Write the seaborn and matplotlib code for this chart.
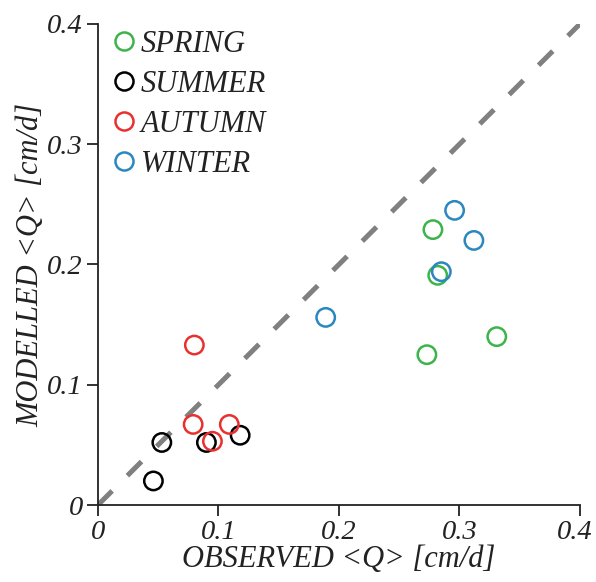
import numpy as np
import pandas as pd
import matplotlib
matplotlib.use("Agg")
import matplotlib.pyplot as plt
import matplotlib.transforms as mtransforms
import seaborn as sns

seasons = ["SPRING", "SUMMER", "AUTUMN", "WINTER"]
colors = ["#3cb44b", "#000000", "#e8312f", "#2b87c0"]

spring_obs = [0.278, 0.282, 0.273, 0.331]
spring_mod = [0.229, 0.191, 0.125, 0.140]
summer_obs = [0.046, 0.053, 0.090, 0.118]
summer_mod = [0.020, 0.052, 0.052, 0.058]
autumn_obs = [0.080, 0.079, 0.095, 0.109]
autumn_mod = [0.133, 0.067, 0.053, 0.067]
winter_obs = [0.189, 0.285, 0.296, 0.312]
winter_mod = [0.156, 0.194, 0.245, 0.220]

ticks = [0, 0.1, 0.2, 0.3, 0.4]
tick_labels = ["0", "0.1", "0.2", "0.3", "0.4"]

obs = [spring_obs, summer_obs, autumn_obs, winter_obs]
mod = [spring_mod, summer_mod, autumn_mod, winter_mod]
df = pd.DataFrame({
    "obs": sum(obs, []),
    "mod": sum(mod, []),
    "season": sum([[s] * len(o) for s, o in zip(seasons, obs)], []),
})

sns.set_style("white")
plt.rcParams["font.family"] = ["Liberation Serif", "DejaVu Serif"]
FS = 22
TFS = 20.5
fig = plt.figure(figsize=(5.96, 5.82), dpi=100)
ax = fig.add_axes([0.1644, 0.1323, 0.8086, 0.8265])

ax.plot([0, 0.4], [0, 0.4], color="#808080", lw=3.6, dashes=(4, 4.3), zorder=1)

sns.scatterplot(data=df, x="obs", y="mod", hue="season", hue_order=seasons,
                palette=colors, ax=ax, s=175, linewidth=1.8, legend=False, zorder=3)
coll = ax.collections[-1]
fc = coll.get_facecolors()
coll.set_edgecolors(fc)
coll.set_facecolors("none")

ax.set_xlim(0, 0.4)
ax.set_ylim(0, 0.4)
ax.set_xticks(ticks)
ax.set_yticks(ticks)
ax.set_xticklabels(tick_labels, fontsize=TFS, style="italic")
ax.set_yticklabels(tick_labels, fontsize=TFS, style="italic")
ax.tick_params(direction="out", length=8, width=1.3, color="#222222", pad=3,
               bottom=True, left=True, labelcolor="#222222")
for sp in ["top", "right"]:
    ax.spines[sp].set_visible(False)
for sp in ["left", "bottom"]:
    ax.spines[sp].set_linewidth(1.3)
    ax.spines[sp].set_color("#222222")

last = ax.get_xticklabels()[-1]
last.set_transform(last.get_transform() +
                   mtransforms.ScaledTranslation(-4 / 72, 0, fig.dpi_scale_trans))

ax.set_xlabel("OBSERVED <Q> [cm/d]", fontsize=FS, style="italic", labelpad=0,
              color="#222222")
ax.set_ylabel("MODELLED <Q> [cm/d]", fontsize=FS, style="italic", labelpad=1,
              color="#222222")

handles = [plt.Line2D([], [], marker="o", linestyle="none", markersize=13,
                      markerfacecolor="none", markeredgecolor=c, markeredgewidth=1.8)
           for c in colors]
leg = ax.legend(handles, seasons, loc="upper left", frameon=False,
                prop={"size": FS, "style": "italic"}, handlelength=0.7,
                handletextpad=0.2, labelspacing=0.36, borderaxespad=0.1,
                bbox_to_anchor=(0.0, 1.02))
for t in leg.get_texts():
    t.set_color("#222222")

fig.savefig("out.png", dpi=100)
